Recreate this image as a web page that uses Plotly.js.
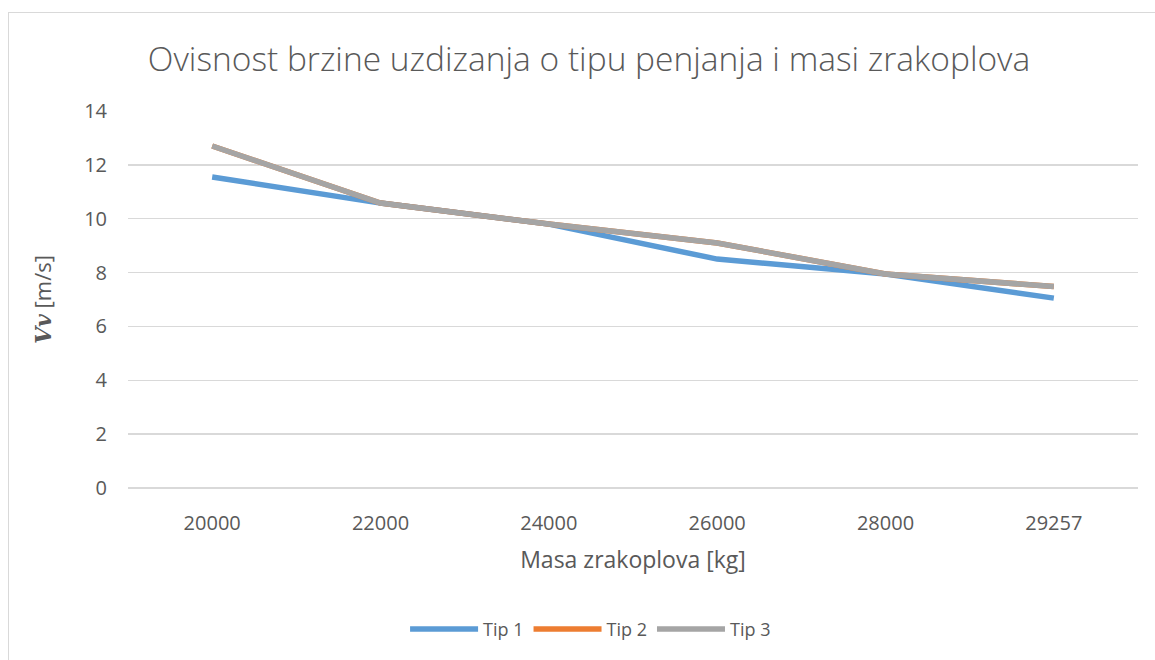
<!DOCTYPE html>
<html>
<head>
<meta charset="utf-8">
<script src="https://cdn.plot.ly/plotly-3.0.1.min.js"></script>
<style>
  html, body { margin: 0; padding: 0; background: #fff; }
  #wrap { position: relative; width: 1155px; height: 660px; overflow: hidden; }
  #chart { position: absolute; left: 0; top: 0; width: 1155px; height: 660px; }
  #frame { position: absolute; left: 8px; top: 12px; width: 1200px; height: 700px;
           border: 1.5px solid #d9d9d9; box-sizing: border-box; pointer-events: none; }
</style>
</head>
<body>
<div id="wrap">
  <div id="chart"></div>
  <div id="frame"></div>
</div>
<script>
const categories = ["20000", "22000", "24000", "26000", "28000", "29257"];
const tip1 = [11.55, 10.58, 9.8, 8.5, 7.95, 7.05];
const tip2 = [12.7, 10.58, 9.8, 9.1, 7.95, 7.48];
const tip3 = [12.7, 10.58, 9.8, 9.1, 7.95, 7.48];
const yTicks = [0, 2, 4, 6, 8, 10, 12, 14];

const font = "Open Sans, Liberation Sans, sans-serif";
const txt = "#595959";

function series(name, y, color) {
  return {
    type: "scatter", mode: "lines", name: name,
    x: categories, y: y,
    line: { color: color, width: 5.5 },
    hoverinfo: "x+y+name"
  };
}

const data = [
  series("Tip 1", tip1, "#5B9BD5"),
  series("Tip 2", tip2, "#ED7D31"),
  series("Tip 3", tip3, "#A5A5A5")
];

const layout = {
  width: 1155, height: 660,
  margin: { l: 128, r: 17, t: 111, b: 169 },
  paper_bgcolor: "#ffffff", plot_bgcolor: "#ffffff",
  font: { family: font, color: txt, size: 17 },
  showlegend: true,
  title: {
    text: "Ovisnost brzine uzdizanja o tipu penjanja i masi zrakoplova",
    font: { family: font, size: 33.5, color: txt, weight: 300 },
    x: 0.51, xanchor: "center", y: 0.91, yanchor: "middle"
  },
  xaxis: {
    type: "category",
    range: [-0.5, 5.5],
    showgrid: false, zeroline: false, showline: false,
    ticks: "", tickfont: { size: 20, color: txt },
    ticklabelstandoff: 21,
    title: { text: "Masa zrakoplova [kg]", font: { size: 23, color: txt }, standoff: 16 }
  },
  yaxis: {
    range: [0, 14],
    tickvals: yTicks,
    ticktext: yTicks.map(String),
    showgrid: true, gridcolor: "#d9d9d9", gridwidth: 1.3,
    zeroline: true, zerolinecolor: "#d9d9d9", zerolinewidth: 1.3,
    showline: false, ticks: "",
    tickfont: { size: 20, color: txt },
    ticklabelstandoff: 20,
    title: {
      text: "<span style=\"font-family:DejaVu Serif, serif\"><b><i>Vv</i></b></span> [m/s]",
      font: { size: 22, color: txt }, standoff: 26
    }
  },
  legend: {
    orientation: "h", x: 0.458, xanchor: "center", y: -0.375, yanchor: "middle",
    font: { size: 18, color: txt },
    itemwidth: 68, tracegroupgap: 0
  }
};

Plotly.newPlot("chart", data, layout, { displayModeBar: false, staticPlot: true });
</script>
</body>
</html>
